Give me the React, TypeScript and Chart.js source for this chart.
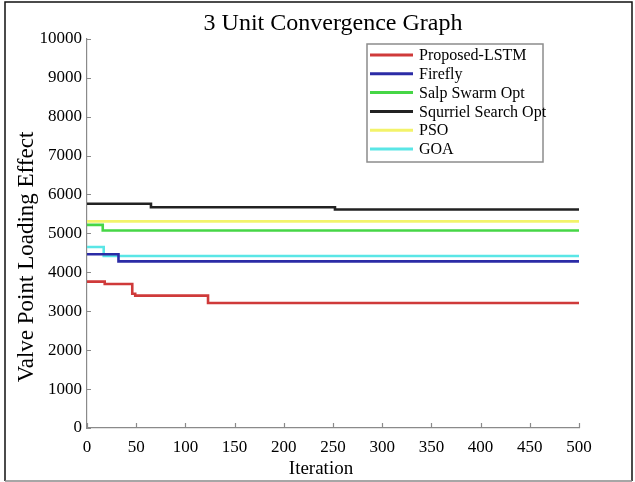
import React, { useEffect, useRef } from 'react';
import { Chart, registerables } from 'chart.js';

Chart.register(...registerables);

// ---- data ----
const seriesNames = ['Proposed-LSTM', 'Firefly', 'Salp Swarm Opt', 'Squrriel Search Opt', 'PSO', 'GOA'];
const seriesColors = ['#cf3a3a', '#2b2ba6', '#46d646', '#222222', '#f3f36a', '#5ae6e6'];

const lstmIter = [0, 18, 46, 49, 123, 500];
const lstmVal = [3760, 3700, 3450, 3400, 3210, 3210];
const fireflyIter = [0, 32, 500];
const fireflyVal = [4465, 4280, 4280];
const salpIter = [0, 16, 500];
const salpVal = [5220, 5075, 5075];
const squirrelIter = [0, 65, 252, 500];
const squirrelVal = [5760, 5670, 5615, 5615];
const psoIter = [0, 500];
const psoVal = [5310, 5310];
const goaIter = [0, 17, 500];
const goaVal = [4650, 4420, 4420];

const xTicks = [0, 50, 100, 150, 200, 250, 300, 350, 400, 450, 500];
const yTicks = [0, 1000, 2000, 3000, 4000, 5000, 6000, 7000, 8000, 9000, 10000];

const titleText = '3 Unit Convergence Graph';
const xTitle = 'Iteration';
const yTitle = 'Valve Point Loading Effect';

const FONT = "'Liberation Serif', 'Times New Roman', serif";

const seriesIters = [lstmIter, fireflyIter, salpIter, squirrelIter, psoIter, goaIter];
const seriesVals = [lstmVal, fireflyVal, salpVal, squirrelVal, psoVal, goaVal];

const decorPlugin = {
  id: 'decor',
  beforeDraw(chart: any) {
    const { ctx, width, height } = chart;
    ctx.save();
    ctx.fillStyle = '#ffffff';
    ctx.fillRect(0, 0, width, height);
    ctx.restore();
  },
  afterDraw(chart: any) {
    const { ctx, width, height, chartArea } = chart;
    const xs = chart.scales.x;
    const ys = chart.scales.y;
    ctx.save();
    // outer frame
    ctx.lineWidth = 1.5;
    ctx.strokeStyle = '#111111';
    ctx.beginPath();
    ctx.moveTo(5, height - 1);
    ctx.lineTo(5, 2);
    ctx.lineTo(width - 3, 2);
    ctx.lineTo(width - 3, height - 1);
    ctx.stroke();
    ctx.strokeStyle = '#888888';
    ctx.beginPath();
    ctx.moveTo(5, height - 1);
    ctx.lineTo(width - 3, height - 1);
    ctx.stroke();

    // inward tick marks
    ctx.strokeStyle = '#8a8a8a';
    ctx.lineWidth = 1.2;
    ctx.beginPath();
    for (const v of yTicks) {
      const p = Math.round(ys.getPixelForValue(v)) + 0.5;
      ctx.moveTo(chartArea.left, p);
      ctx.lineTo(chartArea.left + 4, p);
    }
    for (const v of xTicks) {
      const p = Math.round(xs.getPixelForValue(v)) + 0.5;
      ctx.moveTo(p, chartArea.bottom);
      ctx.lineTo(p, chartArea.bottom - 5);
    }
    ctx.stroke();

    // axis titles
    ctx.fillStyle = '#000000';
    ctx.textAlign = 'center';
    ctx.textBaseline = 'middle';
    ctx.font = `19px ${FONT}`;
    ctx.fillText(xTitle, 321, 469);
    ctx.save();
    ctx.translate(27, 257);
    ctx.rotate(-Math.PI / 2);
    ctx.font = `23px ${FONT}`;
    ctx.fillText(yTitle, 0, 0);
    ctx.restore();

    // legend
    const bx = 367, by = 44, bw = 176, bh = 118;
    ctx.fillStyle = '#ffffff';
    ctx.fillRect(bx, by, bw, bh);
    ctx.strokeStyle = '#8c8c8c';
    ctx.lineWidth = 1.5;
    ctx.strokeRect(bx, by, bw, bh);
    ctx.font = `16px ${FONT}`;
    ctx.textAlign = 'left';
    ctx.textBaseline = 'middle';
    chart.data.datasets.forEach((ds: any, i: number) => {
      const y = 55 + i * 18.8;
      ctx.strokeStyle = ds.borderColor;
      ctx.lineWidth = 3;
      ctx.beginPath();
      ctx.moveTo(370, y);
      ctx.lineTo(413, y);
      ctx.stroke();
      ctx.fillStyle = '#000000';
      ctx.fillText(ds.label, 419, y + 1);
    });
    ctx.restore();
  },
};

export default function App() {
  const ref = useRef<HTMLCanvasElement | null>(null);
  useEffect(() => {
    if (!ref.current) return;
    const datasets = seriesNames.map((name, i) => ({
      label: name,
      data: seriesIters[i].map((x, j) => ({ x, y: seriesVals[i][j] })),
      borderColor: seriesColors[i],
      backgroundColor: seriesColors[i],
      borderWidth: 2.6,
      pointRadius: 0,
      stepped: 'before' as const,
      fill: false,
    }));
    const chart = new Chart(ref.current, {
      type: 'line',
      data: { datasets },
      options: {
        animation: false,
        responsive: false,
        devicePixelRatio: 1,
        layout: { padding: { left: 0, right: 56, top: 0, bottom: 0 } },
        plugins: {
          legend: { display: false },
          tooltip: { enabled: false },
          title: {
            display: true,
            text: titleText,
            fullSize: false,
            color: '#000000',
            font: { family: FONT, size: 24, weight: 'normal', lineHeight: 1.2 },
            padding: { top: 9, bottom: 1 },
          },
        },
        scales: {
          x: {
            type: 'linear',
            min: 0,
            max: 500,
            afterFit: (s: any) => { s.height = 54; },
            afterBuildTicks: (s: any) => { s.ticks = xTicks.map((v) => ({ value: v })); },
            ticks: {
              color: '#000000',
              padding: 9,
              maxRotation: 0,
              autoSkip: false,
              font: { family: FONT, size: 17 },
              callback: (v: any) => String(v),
            },
            grid: { display: false, drawTicks: false },
            border: { display: true, color: '#8a8a8a', width: 1.2 },
          },
          y: {
            type: 'linear',
            min: 0,
            max: 10000,
            afterFit: (s: any) => { s.width = 87; },
            afterBuildTicks: (s: any) => { s.ticks = yTicks.map((v) => ({ value: v })); },
            ticks: {
              color: '#000000',
              padding: 5,
              autoSkip: false,
              font: { family: FONT, size: 17 },
              callback: (v: any) => String(v),
            },
            grid: { display: false, drawTicks: false },
            border: { display: true, color: '#8a8a8a', width: 1.2 },
          },
        },
      },
      plugins: [decorPlugin],
    });
    return () => chart.destroy();
  }, []);
  return (
    <div style={{ position: 'fixed', left: 0, top: 0, width: 635, height: 482, background: '#fff' }}>
      <canvas ref={ref} width={635} height={482} style={{ display: 'block' }} />
    </div>
  );
}
